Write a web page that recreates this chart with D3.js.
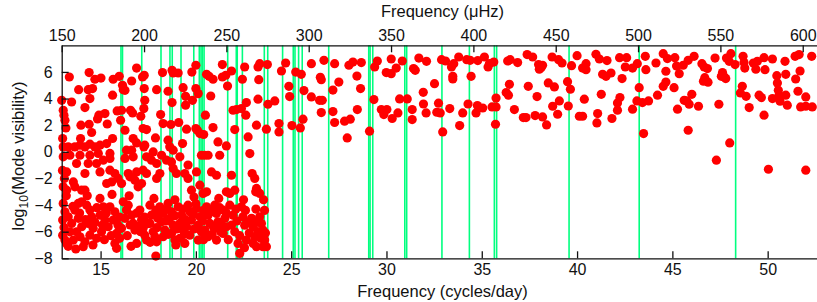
<!DOCTYPE html>
<html><head><meta charset="utf-8">
<script src="https://cdn.jsdelivr.net/npm/d3@7"></script>
<style>
html,body{margin:0;padding:0;background:#fff;}
svg text{font-family:"Liberation Sans",Arial,Helvetica,sans-serif;fill:#111;}
</style></head>
<body><svg id="chart" width="817" height="302"></svg>
<script>
// ---- data ----
const MUHZ_TO_CPD = 0.0864;
const xDomainMuHz = [150, 610];
const yDomain = [-8, 8];
const bottomTicks = [15, 20, 25, 30, 35, 40, 45, 50];
const topTicks = [150, 200, 250, 300, 350, 400, 450, 500, 550, 600];
const leftTicks = [-8, -6, -4, -2, 0, 2, 4, 6];

// green vertical lines (cycles/day)
const modeLines = [16.07,16.15,17.16,18.17,18.64,18.76,19.22,19.89,20.18,20.27,20.34,20.43,
  21.67,22.12,22.17,22.44,23.59,23.77,24.55,25.11,25.20,25.39,25.58,26.97,29.07,29.14,29.28,
  30.96,31.06,32.91,34.35,35.66,35.78,39.58,43.26,48.32];

// [frequency (c/d), log10 visibility]
const dotsHigh = [
[24.71,6.67],[24.49,6.07],[25.24,5.99],[25.53,5.82],[26.06,6.62],[26.72,6.87],[27.28,6.62],[28.03,6.50],[28.24,6.74],[28.68,6.70],[28.45,5.69],[29.38,6.37],[29.52,6.82],[30.25,6.97],[29.99,5.95],[30.25,5.87],[30.51,6.29],[30.83,6.82],[31.42,6.25],[31.51,6.12],[31.70,7.04],[32.10,6.80],[32.89,6.92],[33.10,6.82],[33.53,6.62],[33.41,6.37],[33.48,5.67],[33.48,5.47],[33.79,7.12],[34.21,6.92],[34.39,6.87],[34.79,6.85],[35.14,7.12],[35.40,6.62],[35.33,6.37],[35.63,6.74],[34.44,5.67],[36.36,6.82],[36.49,6.92],[36.88,6.70],[37.38,7.30],[37.67,7.12],[37.98,6.55],[38.02,6.20],
[26.53,5.60],[26.58,5.42],[27.50,5.24],[24.88,4.92],[27.19,4.64],[28.64,4.75],[25.67,4.60],[24.92,4.15],[24.14,3.82],[26.06,4.12],[26.49,3.87],[26.63,3.87],[29.34,3.92],[30.69,3.97],[31.93,4.47],[32.52,5.12],[31.94,3.59],[32.73,3.65],[36.45,5.07],[37.44,4.92],[36.28,4.45],[36.40,4.25],[37.90,4.15],[31.09,3.97],[34.28,3.59],[34.77,3.47],[35.05,3.29],[35.54,3.37],[35.75,3.37],[35.75,4.04],
[27.19,3.02],[26.58,2.95],[28.47,3.17],[29.73,3.17],[30.02,3.17],[29.86,2.80],[30.30,2.50],[30.60,2.92],[31.35,3.17],[31.35,2.42],[32.08,2.92],[32.64,2.97],[32.82,2.92],[33.32,3.25],[34.00,2.92],[34.70,2.92],[36.71,3.17],[37.18,2.57],[37.32,2.57],[37.80,2.72],[38.19,2.62],[25.62,2.45],[27.28,2.20],[27.80,2.30],[28.10,2.45],[24.36,2.12],[24.36,1.49],[25.04,1.97],[25.48,1.79],[33.84,1.97],[35.72,2.07],[38.40,2.02],[27.94,1.04],[29.11,1.55],[32.95,1.49],
[38.19,6.50],[38.11,6.32],[38.69,7.12],[39.03,6.92],[39.21,6.67],[39.71,6.47],[40.00,7.22],[40.99,7.32],[41.17,6.97],[41.57,6.85],[40.47,6.62],[40.29,6.29],[40.47,6.17],[41.34,5.82],[41.52,5.67],[41.78,5.92],[42.23,7.07],[42.60,7.07],[42.53,6.37],[42.91,6.29],[43.16,6.62],[43.61,6.17],[43.58,7.17],[42.36,5.50],[44.14,6.67],[44.52,7.37],[44.74,7.00],[44.66,6.05],[45.13,7.07],[45.22,6.44],[45.36,5.87],[45.57,6.50],[45.83,6.87],[46.14,7.17],[46.55,6.62],[46.67,6.37],[46.84,6.25],[47.24,7.04],[47.84,7.04],[48.07,7.37],[47.98,6.80],[48.29,6.55],[47.63,5.95],[47.73,5.62],[47.57,5.67],[48.71,7.17],[48.76,6.70],[48.80,6.29],[49.25,6.67],[49.38,6.20],[49.46,6.80],[49.81,7.07],[50.25,6.97],[49.86,6.17],[50.48,5.72],[50.91,6.80],[50.95,5.82],[51.44,7.17],[51.65,7.30],[51.70,6.07],[51.47,5.47],[52.31,7.17],
[38.49,5.17],[38.81,4.87],[39.50,5.27],[39.65,4.70],[38.72,3.42],[38.98,2.82],[39.07,3.82],[39.54,3.44],[40.38,3.95],[41.27,4.32],[40.12,2.67],[40.29,2.67],[41.08,2.87],[41.04,2.17],[41.83,2.50],[42.12,3.67],[42.25,4.07],[42.12,3.12],[42.91,3.20],[43.26,4.82],[43.14,3.82],[43.43,3.70],[43.75,3.82],[43.49,1.37],[44.22,4.25],[44.52,4.92],[44.66,5.24],[45.09,4.82],[45.27,3.20],[45.62,3.87],[45.76,3.82],[45.88,3.57],[46.02,4.32],[45.83,1.62],[46.37,3.42],[46.63,5.30],[46.70,5.57],[46.87,5.23],[47.44,3.57],[47.80,5.50],[48.01,0.67],[48.67,4.92],[48.57,4.42],[48.87,4.17],[49.03,3.32],[49.55,4.25],[49.67,4.07],[49.81,2.75],[50.25,4.00],[50.51,5.17],[50.56,4.62],[50.60,4.25],[50.65,3.80],[50.95,4.25],[51.03,3.50],[51.59,4.55],[52.00,4.12],[51.73,3.37],[52.00,3.42],[52.34,3.37],
[47.31,-0.63],[50.04,-1.31],[52.00,-1.38]
];

const dotsLowUpper = [
[12.96,3.87],[13.36,5.62],[13.48,3.74],[13.04,3.12],[13.08,2.75],[13.13,2.37],[13.18,1.79],[13.01,1.00],[13.04,0.37],[13.85,4.67],[13.97,2.00],[13.95,1.00],[14.18,3.32],[14.40,5.95],[14.35,4.67],[14.58,4.75],[14.44,4.00],[14.40,2.07],[14.53,1.45],[14.70,5.45],[15.02,5.54],[14.91,2.75],[14.84,2.47],[15.23,2.87],[15.35,2.09],[15.63,4.25],[15.66,5.45],[15.63,1.00],[15.98,5.67],[15.87,3.07],[16.10,3.12],[16.05,2.37],[16.28,1.62],[16.15,5.00],[16.19,4.67],[16.28,4.62],[16.57,3.12],[16.68,2.92],[16.89,6.29],[16.63,5.32],[16.71,1.00],[16.89,0.67],[17.11,2.67],[17.29,5.75],[17.20,5.62],[17.29,4.75],[17.32,3.87],[17.27,3.25],[17.23,1.75],[17.41,1.67],[17.27,0.37],[17.94,4.67],[17.88,1.04],[18.15,2.80],[18.28,2.12],[18.25,5.95],[18.54,4.55],[18.75,6.12],[18.81,5.92],[19.07,5.92],[18.69,2.05],[18.75,3.70],[18.54,0.87],[19.10,2.20],[19.33,4.82],[19.46,4.17],[19.46,3.50],[19.30,0.62],[19.51,1.70],[19.79,5.99],[19.82,3.87],[20.00,6.50],[20.00,4.75],[20.12,4.37],[20.00,1.75],[20.08,1.62],[20.21,1.37],[20.50,2.75],[20.41,1.30],[20.56,5.82],[20.69,5.67],[20.78,4.19],[20.90,5.45],[20.90,1.82],[21.16,0.74],[21.39,6.55],[21.39,5.62],[21.57,5.75],[21.66,4.94],[21.60,0.44],[21.87,6.07],[21.95,3.12],[22.13,3.17],[22.39,3.25],[22.04,1.67],[22.44,5.45],[22.56,6.37],[22.65,3.70],[22.74,1.12],[22.62,2.75],[23.18,2.00],[23.26,3.95],[23.26,6.37],[23.35,6.62],[23.30,5.42],[23.75,6.55],[23.70,1.70],[23.78,3.57]
];

const dotsLowMid = [
[13.04,-0.38],[13.30,0.37],[13.65,0.37],[13.92,0.50],[14.18,0.37],[14.44,0.57],[14.70,0.37],[14.97,0.50],[15.32,0.62],
[13.39,-0.25],[13.92,-0.25],[14.44,-0.25],[14.88,-0.12],[15.49,-0.12],
[13.22,-1.51],[13.04,-2.63],[13.74,-0.88],[14.35,-0.88],[14.18,-1.63],[14.79,-0.88],[15.14,-0.63],[15.49,-0.50],[14.97,-1.51],[15.49,-1.38],[15.75,-1.63],[15.92,-2.00],[15.32,-2.38],[15.58,-2.26],[16.10,-2.38],[13.22,-2.88],[13.57,-2.26],[13.65,-2.63],[14.01,-2.88],[14.18,-2.88],
[16.36,0.12],[16.63,0.12],[16.28,-0.50],[16.71,-0.38],[16.45,-1.63],[16.54,-1.88],[16.89,-1.51],[17.23,-1.38],[17.41,-1.63],[16.80,-2.13],[17.15,-2.38],[16.97,-2.63],[17.32,0.50],[17.41,-0.38],[17.76,-0.01],[17.67,-0.63],[17.94,-0.88],[18.11,-1.63],[17.94,-2.00],[18.20,-0.26],[18.46,-0.63],[18.63,0.37],[18.81,0.12],[18.72,-0.76],[18.81,-1.25],[18.98,-1.63],[19.16,-0.38],
[19.59,-1.00],[19.42,-1.63],[19.59,-2.00],[20.03,-1.51],[19.77,-2.88],[20.29,-0.26],[20.47,-0.26],[20.64,-0.26],[20.21,-2.51],[20.38,-3.13],[20.56,-3.01],[20.82,-1.51],[21.08,-1.76],[21.25,-0.26],[21.87,-1.76],[21.60,-3.01],[21.78,-3.13],[22.04,-2.88],[22.83,-0.13],[22.95,-1.63],[23.09,-2.00],[23.18,-2.75],[23.14,-3.01],[23.35,-3.13],
[13.00,-1.40],[13.10,-2.00],[13.20,-3.30],[14.30,-3.30],[15.60,-3.20],[16.50,-3.30],[17.80,-3.50],[18.90,-3.60],[19.90,-3.40],[21.20,-3.50],[22.50,-3.60]
];

const dotsLowBand = [
[13.04,-3.88],[13.13,-4.51],[13.01,-5.13],[13.08,-5.68],[13.01,-6.26],[13.13,-6.63],[13.30,-4.88],[13.48,-5.38],[13.39,-6.01],[13.57,-6.63],[13.22,-6.88],[13.65,-4.38],[13.83,-3.88],[14.01,-3.76],[13.83,-5.00],[14.01,-5.63],[13.74,-6.01],[13.92,-6.38],[14.18,-6.76],[14.09,-7.13],[14.27,-4.01],[14.44,-4.38],[14.53,-4.88],[14.35,-5.38],[14.61,-5.75],[14.44,-6.26],[14.79,-6.50],
[14.97,-3.50],[15.14,-4.13],[14.97,-4.76],[15.23,-5.13],[15.40,-5.63],[15.05,-6.01],[15.49,-4.13],[15.75,-4.51],[15.66,-5.13],[15.92,-5.51],[15.84,-6.13],[15.75,-6.88],[15.84,-7.25],
[16.19,-3.76],[16.36,-4.38],[16.28,-5.00],[16.10,-5.75],[16.45,-4.01],[16.63,-4.76],[16.71,-5.38],[16.80,-5.88],[16.89,-6.88],[17.06,-4.38],[17.15,-5.13],[17.23,-5.75],[17.32,-6.26],[17.41,-6.63],
[17.59,-4.01],[17.67,-4.76],[17.59,-5.38],[17.76,-6.01],[17.85,-6.38],[17.94,-6.76],[17.90,-7.83],[18.11,-4.13],[18.28,-4.63],[18.20,-5.26],[18.37,-5.88],[18.28,-6.38],[18.54,-3.88],[18.72,-4.51],[18.63,-5.00],[18.81,-5.51],[18.72,-6.13],[18.90,-6.63],
[19.07,-4.13],[19.25,-4.76],[19.16,-5.38],[19.33,-5.88],[19.16,-6.50],[19.42,-6.88],[19.59,-4.01],[19.68,-4.51],[19.77,-5.13],[19.51,-5.63],[19.68,-6.26],[20.03,-4.25],[20.21,-4.88],[20.12,-5.51],[20.29,-6.01],[20.12,-6.63],
[20.56,-4.13],[20.64,-4.76],[20.73,-5.38],[20.47,-5.88],[20.64,-6.38],[20.99,-4.01],[21.08,-4.63],[21.16,-5.26],[20.99,-5.75],[21.08,-6.63],[21.43,-4.38],[21.52,-5.00],[21.60,-5.63],[21.43,-6.13],
[21.78,-4.01],[21.95,-4.76],[21.87,-5.51],[22.04,-6.01],[22.21,-6.88],[22.30,-7.63],[22.39,-4.13],[22.47,-4.88],[22.56,-5.51],[22.65,-6.63],[22.92,-5.00],[23.00,-5.63],[23.09,-6.38],[23.00,-6.88],[23.18,-7.13],[23.35,-4.88],[23.44,-5.38],[23.52,-5.88],[23.61,-6.63],[23.52,-7.13],[23.70,-7.13],
[13.55,-4.10],[13.90,-4.60],[14.20,-5.10],[14.70,-5.30],[14.80,-4.20],[15.10,-5.50],[15.30,-4.60],[15.55,-6.30],[15.20,-6.60],[14.60,-7.00],[13.70,-7.30],[13.30,-7.10],
[16.00,-4.90],[16.00,-6.50],[16.40,-6.30],[16.55,-5.50],[16.90,-4.60],[17.00,-5.60],[16.60,-7.10],[17.30,-4.90],[17.45,-5.40],[17.10,-6.00],[17.60,-6.80],
[17.90,-4.40],[18.00,-5.00],[17.95,-5.70],[18.45,-5.20],[18.50,-4.30],[18.55,-6.20],[18.90,-4.80],[19.00,-5.80],[18.95,-7.00],[19.30,-4.30],[19.45,-5.10],[19.40,-6.20],
[19.85,-4.70],[19.90,-5.80],[20.00,-3.90],[20.40,-4.40],[20.35,-5.20],[20.40,-6.60],[20.80,-4.50],[20.90,-5.60],[20.85,-6.20],[21.25,-4.20],[21.30,-5.40],[21.30,-6.00],[21.60,-4.60],[21.70,-6.60],
[22.10,-4.30],[22.15,-5.20],[22.30,-6.30],[22.60,-4.40],[22.75,-5.30],[22.80,-6.10],[22.55,-7.20],[23.15,-4.30],[23.20,-5.30],[23.25,-6.00],[23.40,-6.50],[23.65,-6.10],[23.60,-4.40],[23.55,-3.60]
];

// ---- drawing ----
const W = 817, H = 302;
const plotLeft = 61.7, plotRight = 819.2, plotTop = 45.3, plotBottom = 258.3;
const svg = d3.select("#chart");
svg.append("rect").attr("width", W).attr("height", H).attr("fill", "#fff");

const xMu = d3.scaleLinear().domain(xDomainMuHz).range([plotLeft, plotRight]);
const xCd = d3.scaleLinear().domain(xDomainMuHz.map(d => d * MUHZ_TO_CPD)).range([plotLeft, plotRight]);
const y = d3.scaleLinear().domain(yDomain).range([plotBottom, plotTop]);

// green lines
svg.append("g").selectAll("line").data(modeLines).join("line")
  .attr("x1", d => xCd(d)).attr("x2", d => xCd(d))
  .attr("y1", y(yDomain[1])).attr("y2", y(yDomain[0]))
  .attr("stroke", "#00ff7f").attr("stroke-width", 1.6);

// dots
const allDots = [].concat(dotsHigh, dotsLowUpper, dotsLowMid, dotsLowBand);
svg.append("g").selectAll("circle").data(allDots).join("circle")
  .attr("cx", d => xCd(d[0])).attr("cy", d => y(d[1])).attr("r", 4.6)
  .attr("fill", "#ff0000");

// axes
function styleAxis(g) {
  g.selectAll("path,line").attr("stroke", "#111").attr("stroke-width", 1.3);
  g.selectAll("text").attr("font-size", 16).attr("fill", "#111")
    .attr("font-family", '"Liberation Sans",Arial,Helvetica,sans-serif');
}
svg.append("g").attr("transform", `translate(0,${plotBottom})`)
  .call(d3.axisBottom(xCd).tickValues(bottomTicks).tickSize(-7).tickSizeOuter(0).tickPadding(5))
  .call(styleAxis);
svg.append("g").attr("transform", `translate(0,${plotTop})`)
  .call(d3.axisTop(xMu).tickValues(topTicks).tickSize(-7).tickSizeOuter(0).tickPadding(4))
  .call(styleAxis);
svg.append("g").attr("transform", `translate(${plotLeft},0)`)
  .call(d3.axisLeft(y).tickValues(leftTicks).tickSize(-7).tickSizeOuter(0).tickPadding(9))
  .call(styleAxis);

// axis titles
svg.append("text").attr("x", 442.5).attr("y", 17).attr("text-anchor", "middle")
  .attr("font-size", 16.5).text("Frequency (μHz)");
svg.append("text").attr("x", 442.5).attr("y", 297).attr("text-anchor", "middle")
  .attr("font-size", 16.5).text("Frequency (cycles/day)");
const yl = svg.append("text").attr("transform", "translate(23.5,156) rotate(-90)")
  .attr("text-anchor", "middle").attr("font-size", 16.5);
yl.append("tspan").text("log");
yl.append("tspan").attr("font-size", 12).attr("dy", 4).text("10");
yl.append("tspan").attr("dy", -4).text("(Mode visibility)");
</script></body></html>
